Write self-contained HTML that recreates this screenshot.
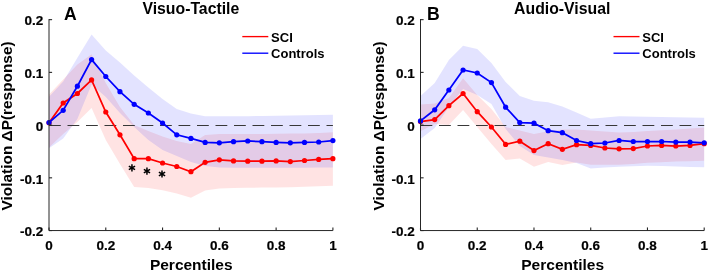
<!DOCTYPE html>
<html><head><meta charset="utf-8"><style>
html,body{margin:0;padding:0;background:#fff;width:709px;height:276px;overflow:hidden}
svg{display:block;will-change:transform}
.t{font-family:"Liberation Sans",sans-serif;font-weight:bold;font-size:13.5px;fill:#000;stroke:#000;stroke-width:0.2px}
.l{font-family:"Liberation Sans",sans-serif;font-weight:bold;font-size:15.5px;fill:#000}
.lg{font-family:"Liberation Sans",sans-serif;font-weight:bold;font-size:13px;fill:#000}

</style></head><body>
<svg width="709" height="276" viewBox="0 0 709 276">
<polygon points="49.00,94.60 63.20,79.40 77.39,64.50 91.58,54.30 105.78,83.00 119.97,107.00 134.17,125.00 148.36,131.00 162.56,136.50 176.75,141.00 190.95,144.00 205.14,135.00 219.34,134.00 233.53,134.00 247.73,134.00 261.93,134.00 276.12,133.80 290.31,133.60 304.51,133.40 318.70,133.00 332.90,132.30 332.90,185.80 318.70,186.30 304.51,186.80 290.31,187.20 276.12,187.40 261.93,187.60 247.73,187.80 233.53,188.00 219.34,188.50 205.14,190.50 190.95,197.80 176.75,193.50 162.56,190.20 148.36,188.00 134.17,187.00 119.97,164.00 105.78,140.00 91.58,108.00 77.39,122.00 63.20,134.00 49.00,147.50" fill="rgba(255,0,0,0.11)"/>
<polygon points="49.00,96.80 63.20,81.50 77.39,57.80 91.58,34.60 105.78,50.50 119.97,62.50 134.17,75.50 148.36,87.50 162.56,99.00 176.75,109.00 190.95,113.50 205.14,116.30 219.34,116.30 233.53,116.30 247.73,116.20 261.93,116.00 276.12,115.80 290.31,115.60 304.51,115.30 318.70,115.00 332.90,114.80 332.90,167.50 318.70,167.60 304.51,167.70 290.31,167.80 276.12,167.80 261.93,167.80 247.73,167.80 233.53,167.80 219.34,167.50 205.14,166.00 190.95,162.00 176.75,156.00 162.56,150.00 148.36,140.00 134.17,127.00 119.97,113.00 105.78,97.00 91.58,84.60 77.39,119.00 63.20,138.50 49.00,148.20" fill="rgba(0,0,255,0.11)"/>
<line x1="49.0" y1="125.5" x2="332.9" y2="125.5" stroke="#383838" stroke-width="1.05" stroke-dasharray="11.8,6.7"/>
<polyline points="49.00,122.80 63.20,103.00 77.39,93.50 91.58,79.90 105.78,112.00 119.97,134.80 134.17,158.70 148.36,158.70 162.56,163.00 176.75,166.50 190.95,171.70 205.14,162.30 219.34,159.80 233.53,160.90 247.73,161.20 261.93,161.20 276.12,160.90 290.31,161.60 304.51,160.50 318.70,159.40 332.90,158.70" fill="none" stroke="#ff0000" stroke-width="1.75"/>
<polyline points="49.00,122.50 63.20,110.30 77.39,86.20 91.58,59.60 105.78,76.50 119.97,91.70 134.17,104.30 148.36,113.00 162.56,123.00 176.75,134.80 190.95,138.40 205.14,142.40 219.34,142.80 233.53,141.70 247.73,141.00 261.93,141.70 276.12,142.40 290.31,142.80 304.51,142.40 318.70,142.00 332.90,140.60" fill="none" stroke="#0000ff" stroke-width="1.75"/>
<circle cx="49.00" cy="122.80" r="2.6" fill="#ff0000"/>
<circle cx="63.20" cy="103.00" r="2.6" fill="#ff0000"/>
<circle cx="77.39" cy="93.50" r="2.6" fill="#ff0000"/>
<circle cx="91.58" cy="79.90" r="2.6" fill="#ff0000"/>
<circle cx="105.78" cy="112.00" r="2.6" fill="#ff0000"/>
<circle cx="119.97" cy="134.80" r="2.6" fill="#ff0000"/>
<circle cx="134.17" cy="158.70" r="2.6" fill="#ff0000"/>
<circle cx="148.36" cy="158.70" r="2.6" fill="#ff0000"/>
<circle cx="162.56" cy="163.00" r="2.6" fill="#ff0000"/>
<circle cx="176.75" cy="166.50" r="2.6" fill="#ff0000"/>
<circle cx="190.95" cy="171.70" r="2.6" fill="#ff0000"/>
<circle cx="205.14" cy="162.30" r="2.6" fill="#ff0000"/>
<circle cx="219.34" cy="159.80" r="2.6" fill="#ff0000"/>
<circle cx="233.53" cy="160.90" r="2.6" fill="#ff0000"/>
<circle cx="247.73" cy="161.20" r="2.6" fill="#ff0000"/>
<circle cx="261.93" cy="161.20" r="2.6" fill="#ff0000"/>
<circle cx="276.12" cy="160.90" r="2.6" fill="#ff0000"/>
<circle cx="290.31" cy="161.60" r="2.6" fill="#ff0000"/>
<circle cx="304.51" cy="160.50" r="2.6" fill="#ff0000"/>
<circle cx="318.70" cy="159.40" r="2.6" fill="#ff0000"/>
<circle cx="332.90" cy="158.70" r="2.6" fill="#ff0000"/>
<circle cx="49.00" cy="122.50" r="2.6" fill="#0000ff"/>
<circle cx="63.20" cy="110.30" r="2.6" fill="#0000ff"/>
<circle cx="77.39" cy="86.20" r="2.6" fill="#0000ff"/>
<circle cx="91.58" cy="59.60" r="2.6" fill="#0000ff"/>
<circle cx="105.78" cy="76.50" r="2.6" fill="#0000ff"/>
<circle cx="119.97" cy="91.70" r="2.6" fill="#0000ff"/>
<circle cx="134.17" cy="104.30" r="2.6" fill="#0000ff"/>
<circle cx="148.36" cy="113.00" r="2.6" fill="#0000ff"/>
<circle cx="162.56" cy="123.00" r="2.6" fill="#0000ff"/>
<circle cx="176.75" cy="134.80" r="2.6" fill="#0000ff"/>
<circle cx="190.95" cy="138.40" r="2.6" fill="#0000ff"/>
<circle cx="205.14" cy="142.40" r="2.6" fill="#0000ff"/>
<circle cx="219.34" cy="142.80" r="2.6" fill="#0000ff"/>
<circle cx="233.53" cy="141.70" r="2.6" fill="#0000ff"/>
<circle cx="247.73" cy="141.00" r="2.6" fill="#0000ff"/>
<circle cx="261.93" cy="141.70" r="2.6" fill="#0000ff"/>
<circle cx="276.12" cy="142.40" r="2.6" fill="#0000ff"/>
<circle cx="290.31" cy="142.80" r="2.6" fill="#0000ff"/>
<circle cx="304.51" cy="142.40" r="2.6" fill="#0000ff"/>
<circle cx="318.70" cy="142.00" r="2.6" fill="#0000ff"/>
<circle cx="332.90" cy="140.60" r="2.6" fill="#0000ff"/>
<path d="M49.0,19.049999999999997 V230.55 H332.9" fill="none" stroke="#262626" stroke-width="1.0"/>
<line x1="49.0" y1="19.65" x2="52.1" y2="19.65" stroke="#262626" stroke-width="1.1"/>
<text x="43.2" y="25.45" text-anchor="end" class="t">0.2</text>
<line x1="49.0" y1="72.375" x2="52.1" y2="72.375" stroke="#262626" stroke-width="1.1"/>
<text x="43.2" y="78.175" text-anchor="end" class="t">0.1</text>
<line x1="49.0" y1="125.10000000000002" x2="52.1" y2="125.10000000000002" stroke="#262626" stroke-width="1.1"/>
<text x="43.2" y="130.90000000000003" text-anchor="end" class="t">0</text>
<line x1="49.0" y1="177.82500000000002" x2="52.1" y2="177.82500000000002" stroke="#262626" stroke-width="1.1"/>
<text x="43.2" y="183.62500000000003" text-anchor="end" class="t">-0.1</text>
<line x1="49.0" y1="230.55000000000004" x2="52.1" y2="230.55000000000004" stroke="#262626" stroke-width="1.1"/>
<text x="43.2" y="236.35000000000005" text-anchor="end" class="t">-0.2</text>
<line x1="49.0" y1="230.55" x2="49.0" y2="227.45000000000002" stroke="#262626" stroke-width="1.1"/>
<text x="49.0" y="249.75" text-anchor="middle" class="t">0</text>
<line x1="105.78" y1="230.55" x2="105.78" y2="227.45000000000002" stroke="#262626" stroke-width="1.1"/>
<text x="105.78" y="249.75" text-anchor="middle" class="t">0.2</text>
<line x1="162.56" y1="230.55" x2="162.56" y2="227.45000000000002" stroke="#262626" stroke-width="1.1"/>
<text x="162.56" y="249.75" text-anchor="middle" class="t">0.4</text>
<line x1="219.33999999999997" y1="230.55" x2="219.33999999999997" y2="227.45000000000002" stroke="#262626" stroke-width="1.1"/>
<text x="219.33999999999997" y="249.75" text-anchor="middle" class="t">0.6</text>
<line x1="276.12" y1="230.55" x2="276.12" y2="227.45000000000002" stroke="#262626" stroke-width="1.1"/>
<text x="276.12" y="249.75" text-anchor="middle" class="t">0.8</text>
<line x1="332.9" y1="230.55" x2="332.9" y2="227.45000000000002" stroke="#262626" stroke-width="1.1"/>
<text x="332.9" y="249.75" text-anchor="middle" class="t">1</text>
<text x="191.25" y="270.2" text-anchor="middle" class="l">Percentiles</text>
<text x="0" y="0" text-anchor="middle" class="l" style="font-size:15.4px" transform="translate(12.200000000000003 125.9) rotate(-90)">Violation ΔP(response)</text>
<text x="63.9" y="19.5" class="l" style="font-size:17.6px">A</text>
<text x="190.85" y="13.6" text-anchor="middle" class="l" style="font-size:15.8px">Visuo-Tactile</text>
<line x1="242.3" y1="36.6" x2="268.3" y2="36.6" stroke="#ff0000" stroke-width="1.35"/>
<text x="271.1" y="41.7" class="lg">SCI</text>
<line x1="242.3" y1="53.2" x2="268.3" y2="53.2" stroke="#0000ff" stroke-width="1.35"/>
<text x="271.1" y="58.3" class="lg">Controls</text>
<path d="M131.95,171.45L131.95,164.25M128.83,169.65L135.07,166.05M128.83,166.05L135.07,169.65" stroke="#000" stroke-width="1.5" fill="none"/>
<path d="M146.95,174.70L146.95,167.50M143.83,172.90L150.07,169.30M143.83,169.30L150.07,172.90" stroke="#000" stroke-width="1.5" fill="none"/>
<path d="M162.00,177.60L162.00,170.40M158.88,175.80L165.12,172.20M158.88,172.20L165.12,175.80" stroke="#000" stroke-width="1.5" fill="none"/>
<polygon points="420.50,104.60 434.69,103.50 448.87,98.00 463.06,78.20 477.24,95.00 491.43,109.00 505.61,127.00 519.80,130.40 533.98,134.00 548.16,131.30 562.35,129.50 576.54,129.60 590.72,130.50 604.90,131.50 619.09,132.50 633.28,132.00 647.46,131.10 661.64,130.30 675.83,129.50 690.02,128.50 704.20,127.60 704.20,160.80 690.02,161.20 675.83,161.60 661.64,162.20 647.46,162.80 633.28,164.00 619.09,164.70 604.90,164.70 590.72,164.70 576.54,162.50 562.35,165.00 548.16,162.00 533.98,166.70 519.80,158.50 505.61,160.00 491.43,144.00 477.24,127.00 463.06,110.00 448.87,125.00 434.69,124.00 420.50,131.20" fill="rgba(255,0,0,0.11)"/>
<polygon points="420.50,96.00 434.69,83.00 448.87,60.00 463.06,45.70 477.24,49.00 491.43,63.00 505.61,82.00 519.80,96.00 533.98,100.80 548.16,102.20 562.35,106.60 576.54,112.50 590.72,118.80 604.90,117.50 619.09,116.20 633.28,116.50 647.46,116.80 661.64,117.00 675.83,117.30 690.02,117.60 704.20,117.80 704.20,167.30 690.02,166.90 675.83,166.40 661.64,166.00 647.46,165.70 633.28,166.20 619.09,166.70 604.90,167.50 590.72,168.60 576.54,163.00 562.35,160.00 548.16,157.50 533.98,155.00 519.80,146.00 505.61,129.00 491.43,104.00 477.24,95.00 463.06,89.00 448.87,107.00 434.69,128.00 420.50,139.00" fill="rgba(0,0,255,0.11)"/>
<line x1="420.5" y1="125.5" x2="704.2" y2="125.5" stroke="#383838" stroke-width="1.05" stroke-dasharray="11.8,6.7"/>
<polyline points="420.50,121.60 434.69,119.60 448.87,105.70 463.06,93.50 477.24,111.70 491.43,127.00 505.61,144.40 519.80,141.20 533.98,150.60 548.16,143.70 562.35,149.30 576.54,144.70 590.72,145.40 604.90,148.00 619.09,148.80 633.28,148.60 647.46,146.00 661.64,145.40 675.83,146.00 690.02,145.40 704.20,143.70" fill="none" stroke="#ff0000" stroke-width="1.75"/>
<polyline points="420.50,120.90 434.69,109.80 448.87,90.00 463.06,70.00 477.24,73.00 491.43,82.60 505.61,107.20 519.80,122.60 533.98,123.20 548.16,130.70 562.35,132.70 576.54,140.50 590.72,143.70 604.90,143.00 619.09,140.50 633.28,141.50 647.46,141.50 661.64,141.50 675.83,142.10 690.02,142.10 704.20,142.80" fill="none" stroke="#0000ff" stroke-width="1.75"/>
<circle cx="420.50" cy="121.60" r="2.6" fill="#ff0000"/>
<circle cx="434.69" cy="119.60" r="2.6" fill="#ff0000"/>
<circle cx="448.87" cy="105.70" r="2.6" fill="#ff0000"/>
<circle cx="463.06" cy="93.50" r="2.6" fill="#ff0000"/>
<circle cx="477.24" cy="111.70" r="2.6" fill="#ff0000"/>
<circle cx="491.43" cy="127.00" r="2.6" fill="#ff0000"/>
<circle cx="505.61" cy="144.40" r="2.6" fill="#ff0000"/>
<circle cx="519.80" cy="141.20" r="2.6" fill="#ff0000"/>
<circle cx="533.98" cy="150.60" r="2.6" fill="#ff0000"/>
<circle cx="548.16" cy="143.70" r="2.6" fill="#ff0000"/>
<circle cx="562.35" cy="149.30" r="2.6" fill="#ff0000"/>
<circle cx="576.54" cy="144.70" r="2.6" fill="#ff0000"/>
<circle cx="590.72" cy="145.40" r="2.6" fill="#ff0000"/>
<circle cx="604.90" cy="148.00" r="2.6" fill="#ff0000"/>
<circle cx="619.09" cy="148.80" r="2.6" fill="#ff0000"/>
<circle cx="633.28" cy="148.60" r="2.6" fill="#ff0000"/>
<circle cx="647.46" cy="146.00" r="2.6" fill="#ff0000"/>
<circle cx="661.64" cy="145.40" r="2.6" fill="#ff0000"/>
<circle cx="675.83" cy="146.00" r="2.6" fill="#ff0000"/>
<circle cx="690.02" cy="145.40" r="2.6" fill="#ff0000"/>
<circle cx="704.20" cy="143.70" r="2.6" fill="#ff0000"/>
<circle cx="420.50" cy="120.90" r="2.6" fill="#0000ff"/>
<circle cx="434.69" cy="109.80" r="2.6" fill="#0000ff"/>
<circle cx="448.87" cy="90.00" r="2.6" fill="#0000ff"/>
<circle cx="463.06" cy="70.00" r="2.6" fill="#0000ff"/>
<circle cx="477.24" cy="73.00" r="2.6" fill="#0000ff"/>
<circle cx="491.43" cy="82.60" r="2.6" fill="#0000ff"/>
<circle cx="505.61" cy="107.20" r="2.6" fill="#0000ff"/>
<circle cx="519.80" cy="122.60" r="2.6" fill="#0000ff"/>
<circle cx="533.98" cy="123.20" r="2.6" fill="#0000ff"/>
<circle cx="548.16" cy="130.70" r="2.6" fill="#0000ff"/>
<circle cx="562.35" cy="132.70" r="2.6" fill="#0000ff"/>
<circle cx="576.54" cy="140.50" r="2.6" fill="#0000ff"/>
<circle cx="590.72" cy="143.70" r="2.6" fill="#0000ff"/>
<circle cx="604.90" cy="143.00" r="2.6" fill="#0000ff"/>
<circle cx="619.09" cy="140.50" r="2.6" fill="#0000ff"/>
<circle cx="633.28" cy="141.50" r="2.6" fill="#0000ff"/>
<circle cx="647.46" cy="141.50" r="2.6" fill="#0000ff"/>
<circle cx="661.64" cy="141.50" r="2.6" fill="#0000ff"/>
<circle cx="675.83" cy="142.10" r="2.6" fill="#0000ff"/>
<circle cx="690.02" cy="142.10" r="2.6" fill="#0000ff"/>
<circle cx="704.20" cy="142.80" r="2.6" fill="#0000ff"/>
<path d="M420.5,19.049999999999997 V230.55 H704.2" fill="none" stroke="#262626" stroke-width="1.0"/>
<line x1="420.5" y1="19.65" x2="423.6" y2="19.65" stroke="#262626" stroke-width="1.1"/>
<text x="414.7" y="25.45" text-anchor="end" class="t">0.2</text>
<line x1="420.5" y1="72.375" x2="423.6" y2="72.375" stroke="#262626" stroke-width="1.1"/>
<text x="414.7" y="78.175" text-anchor="end" class="t">0.1</text>
<line x1="420.5" y1="125.10000000000002" x2="423.6" y2="125.10000000000002" stroke="#262626" stroke-width="1.1"/>
<text x="414.7" y="130.90000000000003" text-anchor="end" class="t">0</text>
<line x1="420.5" y1="177.82500000000002" x2="423.6" y2="177.82500000000002" stroke="#262626" stroke-width="1.1"/>
<text x="414.7" y="183.62500000000003" text-anchor="end" class="t">-0.1</text>
<line x1="420.5" y1="230.55000000000004" x2="423.6" y2="230.55000000000004" stroke="#262626" stroke-width="1.1"/>
<text x="414.7" y="236.35000000000005" text-anchor="end" class="t">-0.2</text>
<line x1="420.5" y1="230.55" x2="420.5" y2="227.45000000000002" stroke="#262626" stroke-width="1.1"/>
<text x="420.5" y="249.75" text-anchor="middle" class="t">0</text>
<line x1="477.24" y1="230.55" x2="477.24" y2="227.45000000000002" stroke="#262626" stroke-width="1.1"/>
<text x="477.24" y="249.75" text-anchor="middle" class="t">0.2</text>
<line x1="533.98" y1="230.55" x2="533.98" y2="227.45000000000002" stroke="#262626" stroke-width="1.1"/>
<text x="533.98" y="249.75" text-anchor="middle" class="t">0.4</text>
<line x1="590.72" y1="230.55" x2="590.72" y2="227.45000000000002" stroke="#262626" stroke-width="1.1"/>
<text x="590.72" y="249.75" text-anchor="middle" class="t">0.6</text>
<line x1="647.46" y1="230.55" x2="647.46" y2="227.45000000000002" stroke="#262626" stroke-width="1.1"/>
<text x="647.46" y="249.75" text-anchor="middle" class="t">0.8</text>
<line x1="704.2" y1="230.55" x2="704.2" y2="227.45000000000002" stroke="#262626" stroke-width="1.1"/>
<text x="704.2" y="249.75" text-anchor="middle" class="t">1</text>
<text x="562.65" y="270.2" text-anchor="middle" class="l">Percentiles</text>
<text x="0" y="0" text-anchor="middle" class="l" style="font-size:15.4px" transform="translate(383.7 125.9) rotate(-90)">Violation ΔP(response)</text>
<text x="426.9" y="19.5" class="l" style="font-size:17.6px">B</text>
<text x="562.25" y="13.6" text-anchor="middle" class="l" style="font-size:15.8px">Audio-Visual</text>
<line x1="613.5" y1="36.6" x2="639.5" y2="36.6" stroke="#ff0000" stroke-width="1.35"/>
<text x="642.3" y="41.7" class="lg">SCI</text>
<line x1="613.5" y1="53.2" x2="639.5" y2="53.2" stroke="#0000ff" stroke-width="1.35"/>
<text x="642.3" y="58.3" class="lg">Controls</text>
</svg>
</body></html>
